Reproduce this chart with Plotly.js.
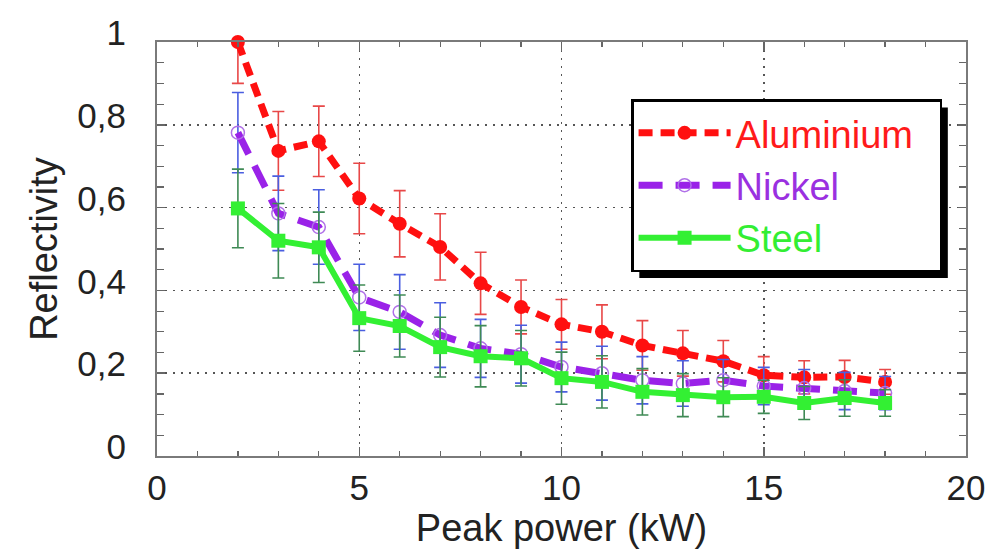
<!DOCTYPE html>
<html><head><meta charset="utf-8">
<script src="https://cdn.plot.ly/plotly-3.0.1.min.js"></script>
<style>html,body{margin:0;padding:0;background:#fff}#chart{width:998px;height:554px}</style>
</head><body><div id="chart"></div>
<script>
const peakPower = [2,3,4,5,6,7,8,9,10,11,12,13,14,15,16,17,18];
const aluminium = [1.0,0.737,0.76,0.622,0.561,0.505,0.417,0.36,0.318,0.30,0.267,0.248,0.229,0.195,0.19,0.191,0.179];
const aluminiumErr = [0.1,0.095,0.085,0.085,0.08,0.08,0.075,0.065,0.06,0.065,0.06,0.055,0.05,0.045,0.04,0.04,0.03];
const nickel = [0.781,0.586,0.553,0.383,0.348,0.292,0.26,0.246,0.215,0.2,0.183,0.175,0.183,0.169,0.164,0.157,0.152];
const nickelErr = [0.097,0.09,0.09,0.08,0.09,0.078,0.07,0.07,0.06,0.065,0.057,0.055,0.05,0.045,0.045,0.045,0.04];
const steel = [0.598,0.52,0.504,0.333,0.314,0.263,0.241,0.236,0.188,0.179,0.155,0.147,0.142,0.143,0.128,0.14,0.128];
const steelErr = [0.095,0.09,0.085,0.08,0.075,0.072,0.074,0.067,0.063,0.063,0.056,0.052,0.047,0.04,0.04,0.044,0.032];
const seriesNames = ["Aluminium","Nickel","Steel"];
const xTickVals = [0,5,10,15,20];
const xTickText = ["0","5","10","15","20"];
const yTickVals = [0,0.2,0.4,0.6,0.8,1];
const yTickText = ["0","0,2","0,4","0,6","0,8","1"];

const FONT = "Liberation Sans, Arial, sans-serif";
const colored = (t, c, pad) => '<span style="color:' + c + '">' + t + (pad || '') + '</span>';

const traces = [
  {x: peakPower, y: aluminium, name: colored(seriesNames[0], "#ff1a1a", "&nbsp;&nbsp;"), type: "scatter", mode: "lines+markers", cliponaxis: false,
   line: {color: "#ff1010", width: 7, dash: "14px,8px"},
   marker: {symbol: "circle", size: 14, color: "#ff1010"},
   error_y: {type: "data", array: aluminiumErr, visible: true, color: "#e84848", thickness: 1.6, width: 6}},
  {x: peakPower, y: nickel, name: colored(seriesNames[1], "#9a30e0"), type: "scatter", mode: "lines+markers", cliponaxis: false,
   line: {color: "#9a22e8", width: 7, dash: "24px,13px"},
   marker: {symbol: "circle-open", size: 13, color: "#b070e8", line: {width: 1.5, color: "#b070e8"}},
   error_y: {type: "data", array: nickelErr, visible: true, color: "#4a5ee0", thickness: 1.6, width: 6}},
  {x: peakPower, y: steel, name: colored(seriesNames[2], "#33ee33"), type: "scatter", mode: "lines+markers", cliponaxis: false,
   line: {color: "#33f033", width: 6},
   marker: {symbol: "square", size: 14, color: "#33f033"},
   error_y: {type: "data", array: steelErr, visible: true, color: "#3f8a55", thickness: 1.6, width: 6}}
];

const layout = {
  width: 998, height: 554,
  margin: {l: 157, r: 32, t: 42, b: 98, pad: 0},
  paper_bgcolor: "#ffffff", plot_bgcolor: "#ffffff",
  font: {family: FONT, size: 35, color: "#222"},
  showlegend: true,
  legend: {x: 0.586, y: 0.862, xanchor: "left", yanchor: "top",
    bgcolor: "#ffffff", bordercolor: "#000", borderwidth: 2.5,
    font: {family: FONT, size: 38}, itemwidth: 92, tracegroupgap: 0},
  xaxis: {range: [0, 20], tickvals: xTickVals, ticktext: xTickText,
    showline: true, linecolor: "#7a7a7a", linewidth: 2, mirror: "ticks",
    ticks: "inside", ticklen: 9, tickwidth: 1.5, tickcolor: "#666",
    minor: {dtick: 1, ticks: "inside", ticklen: 5, tickwidth: 1.2, tickcolor: "#666", showgrid: false},
    showgrid: true, gridcolor: "#555", gridwidth: 1.5, griddash: "2px,6px",
    zeroline: false, tickfont: {size: 35, color: "#222"}, ticklabelstandoff: 0,
    title: {text: "Peak power (kW)", font: {size: 38, color: "#222"}, standoff: 2}},
  yaxis: {range: [0, 1], tickvals: yTickVals, ticktext: yTickText,
    showline: true, linecolor: "#7a7a7a", linewidth: 2, mirror: "ticks",
    ticks: "inside", ticklen: 8, tickwidth: 1.5, tickcolor: "#666",
    minor: {dtick: 0.05, ticks: "inside", ticklen: 7, tickwidth: 1.2, tickcolor: "#666", showgrid: false},
    showgrid: true, gridcolor: "#555", gridwidth: 1.5, griddash: "2px,6px",
    zeroline: false, tickfont: {size: 35, color: "#222"}, ticklabelstandoff: 22, ticklabelshift: -9,
    title: {text: "Reflectivity", font: {size: 38, color: "#222"}, standoff: 8}}
};

const gd = document.getElementById("chart");
Plotly.newPlot(gd, traces, layout, {displayModeBar: false, staticPlot: true}).then(function () {
  const bg = gd.querySelector(".legend rect.bg");
  if (!bg) return;
  const r = bg.getBoundingClientRect();
  const c = gd.getBoundingClientRect();
  const s = gd._fullLayout._size;
  const off = 7;
  const x0 = (r.left - c.left - s.l + off) / s.w, x1 = (r.right - c.left - s.l + off) / s.w;
  const y0 = 1 - (r.bottom - c.top - s.t + off) / s.h, y1 = 1 - (r.top - c.top - s.t + off) / s.h;
  return Plotly.relayout(gd, {shapes: [{type: "rect", xref: "paper", yref: "paper", layer: "above",
    x0: x0, x1: x1, y0: y0, y1: y1, fillcolor: "#000", line: {width: 0}}]});
});
</script></body></html>
